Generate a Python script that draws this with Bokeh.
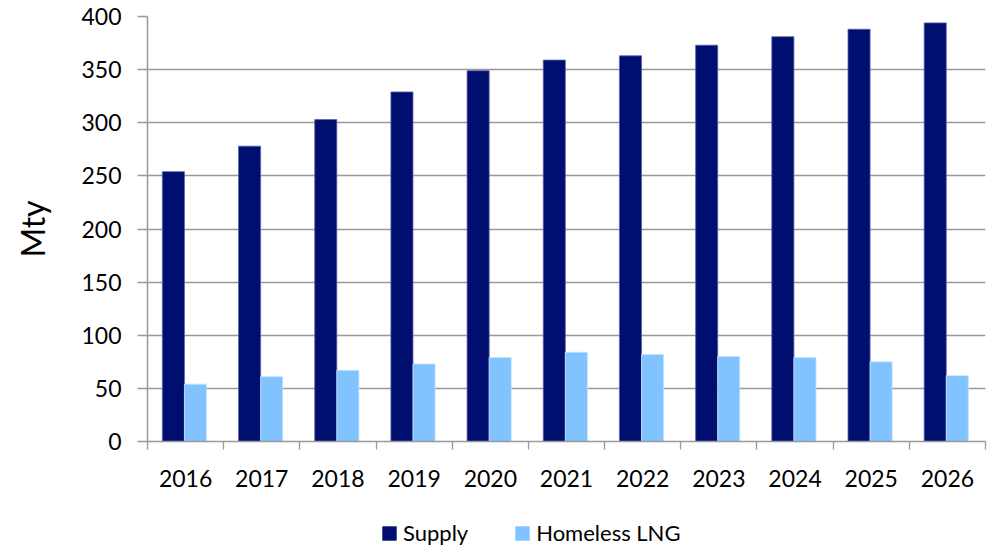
from bokeh.plotting import figure
from bokeh.models import ColumnDataSource, FixedTicker, Range1d, Legend, LegendItem
from bokeh.layouts import column
from bokeh.embed import file_html
from bokeh.resources import INLINE

years = ["2016", "2017", "2018", "2019", "2020", "2021", "2022", "2023", "2024", "2025", "2026"]
supply = [254, 278, 303, 329, 349, 359, 363, 373, 381, 388, 394]
homeless_lng = [54, 61, 67, 73, 79, 84, 82, 80, 79, 75, 62]
y_ticks = [0, 50, 100, 150, 200, 250, 300, 350, 400]

FONT = "Lato"
DARK = "#000f6f"
LIGHT = "#80c3ff"
idx = list(range(len(years)))
centers = [i + 0.5 for i in idx]
bw = 0.29
shift = -0.015
src = ColumnDataSource(dict(
    xs=[c - bw / 2 + shift for c in centers],
    xh=[c + bw / 2 + shift for c in centers],
    supply=supply,
    homeless=homeless_lng,
))

p = figure(width=990, height=497, output_backend="svg", toolbar_location=None,
           x_range=Range1d(0, len(years)), y_range=Range1d(0, 400),
           min_border_left=147, min_border_right=5, min_border_top=16,
           min_border_bottom=56)
p.outline_line_color = None

p.vbar(x="xs", top="supply", width=bw, source=src, fill_color=DARK,
       line_color="#5a63a8", line_width=0.8)
p.vbar(x="xh", top="homeless", width=bw, source=src, fill_color=LIGHT,
       line_color="#c8e4ff", line_width=0.8)

# x axis: labels at centers, tick marks at category boundaries
p.xaxis.ticker = FixedTicker(ticks=centers, minor_ticks=[float(i) for i in range(len(years) + 1)])
p.xaxis.major_label_overrides = {c: y for c, y in zip(centers, years)}
p.xaxis.major_tick_out = 0
p.xaxis.major_tick_in = 0
p.xaxis.minor_tick_out = 8
p.xaxis.minor_tick_in = 0
p.xaxis.minor_tick_line_color = "#999999"
p.xaxis.minor_tick_line_width = 1.3
p.xaxis.axis_line_color = "#999999"
p.xaxis.axis_line_width = 1.5
p.xaxis.major_label_text_font = FONT
p.xaxis.major_label_text_font_size = "23px"
p.xaxis.major_label_text_color = "black"
p.xaxis.major_label_standoff = 20
p.xgrid.grid_line_color = None

p.yaxis.ticker = FixedTicker(ticks=y_ticks)
p.yaxis.major_tick_out = 10
p.yaxis.major_tick_in = 0
p.yaxis.minor_tick_line_color = None
p.yaxis.major_tick_line_color = "#999999"
p.yaxis.major_tick_line_width = 1.3
p.yaxis.axis_line_color = "#999999"
p.yaxis.axis_line_width = 1.5
p.yaxis.major_label_text_font = FONT
p.yaxis.major_label_text_font_size = "23px"
p.yaxis.major_label_text_color = "black"
p.yaxis.major_label_standoff = 16
p.yaxis.axis_label = "Mty"
p.yaxis.axis_label_text_font = FONT
p.yaxis.axis_label_text_font_size = "32px"
p.yaxis.axis_label_text_font_style = "normal"
p.yaxis.axis_label_text_color = "black"
p.yaxis.axis_label_standoff = 26
p.ygrid.grid_line_color = "#999999"
p.ygrid.grid_line_width = 1.5

# legend strip below the chart (its bars fall below its y range, only the legend shows)
lg = figure(width=990, height=50, output_backend="svg", toolbar_location=None,
            x_range=Range1d(0, len(years)), y_range=Range1d(1000, 1001), min_border=0)
lg.axis.visible = False
lg.grid.grid_line_color = None
lg.outline_line_color = None
s1 = lg.vbar(x="xs", top="supply", width=bw, source=src, fill_color=DARK, line_color=None)
s2 = lg.vbar(x="xh", top="homeless", width=bw, source=src, fill_color=LIGHT, line_color=None)
legend = Legend(items=[LegendItem(label="Supply", renderers=[s1]),
                       LegendItem(label="Homeless LNG", renderers=[s2])],
                orientation="horizontal", location=(233, 1),
                label_text_font=FONT, label_text_font_size="22px",
                label_text_color="black",
                glyph_width=18, glyph_height=18, label_standoff=5, spacing=45,
                border_line_color=None, background_fill_alpha=0,
                margin=0, padding=0)
lg.add_layout(legend, "center")

layout = column(p, lg, spacing=0)
open("out.html", "w").write(file_html(layout, INLINE))
